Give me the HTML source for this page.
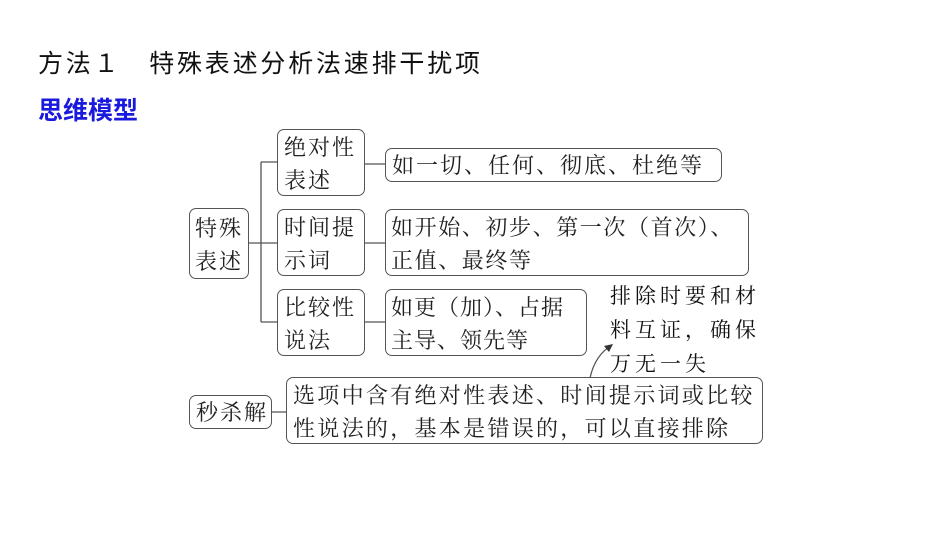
<!DOCTYPE html>
<html><head><meta charset="utf-8"><style>
body{margin:0;width:950px;height:535px;background:#fff;position:relative;overflow:hidden;font-family:"Noto Serif CJK SC","Liberation Serif",serif;}
.t{position:absolute;white-space:nowrap;}
.b{position:absolute;border:1.3px solid #555;border-radius:7px;box-sizing:border-box;font-size:22px;line-height:33px;color:#222;padding-left:6px;white-space:nowrap;letter-spacing:2px;}
</style></head><body>
<div class="t" style="left:38px;top:44px;font-size:25px;letter-spacing:2.8px;font-family:'Noto Sans CJK SC','Liberation Sans',sans-serif;color:#111">方法１　特殊表述分析法速排干扰项</div>
<div class="t" style="left:38px;top:91px;font-size:25px;font-weight:bold;font-family:'Noto Sans CJK SC','Liberation Sans',sans-serif;color:#1a1adf">思维模型</div>
<svg style="position:absolute;left:0;top:0" width="950" height="535">
<g stroke="#555" stroke-width="1.3" fill="none">
<path d="M248 243H261M261 162V322M261 162H277M261 243H277M261 322H277"/>
<path d="M364 164H385M364 243H385M364 322H385M271 412H286"/>
<path d="M590 378 Q595 355 612 345"/>
</g>
<path d="M613 344 L604 346 L609 352 Z" fill="#333"/>
</svg>
<div class="b" style="left:189px;top:208px;width:60px;height:71px;padding-top:2px;padding-left:5px">特殊<br>表述</div>
<div class="b" style="left:277px;top:129px;width:88px;height:67px">绝对性<br>表述</div>
<div class="b" style="left:385px;top:148px;width:337px;height:34px;line-height:31px">如一切、任何、彻底、杜绝等</div>
<div class="b" style="left:277px;top:209px;width:88px;height:67px">时间提<br>示词</div>
<div class="b" style="left:385px;top:209px;width:364px;height:67px;padding-left:5px;letter-spacing:1.6px">如开始、初步、第一次（首次）、<br>正值、最终等</div>
<div class="b" style="left:277px;top:289px;width:88px;height:67px">比较性<br>说法</div>
<div class="b" style="left:385px;top:289px;width:202px;height:67px;padding-left:5px;letter-spacing:1px">如更（加）、占据<br>主导、领先等</div>
<div class="b" style="left:189px;top:395px;width:83px;height:34px;line-height:31px">秒杀解</div>
<div class="b" style="left:286px;top:377px;width:477px;height:67px;letter-spacing:2.3px">选项中含有绝对性表述、时间提示词或比较<br>性说法的，基本是错误的，可以直接排除</div>
<div class="t" style="left:610px;top:278px;font-size:21px;line-height:34px;letter-spacing:4px;color:#111">排除时要和材<br>料互证，确保<br>万无一失</div>
</body></html>
